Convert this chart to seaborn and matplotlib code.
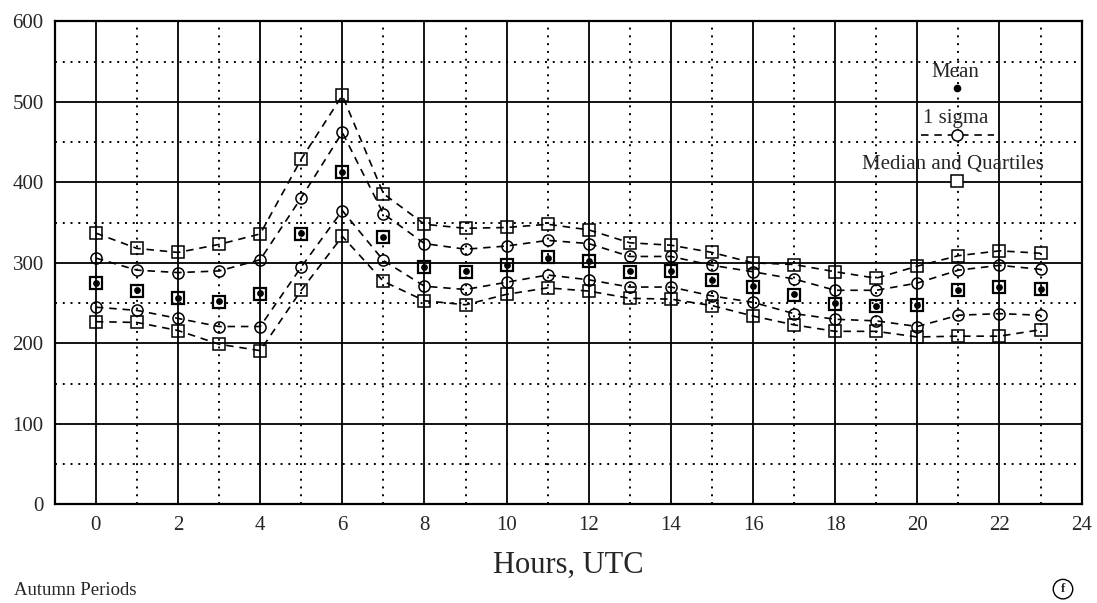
import matplotlib
matplotlib.use("Agg")
import matplotlib.pyplot as plt
from matplotlib.ticker import MultipleLocator
import seaborn as sns
import numpy as np

# values (hourly, autumn periods)
hours = list(range(24))
upper_quartile = [337, 318, 313, 323, 336, 429, 508, 386, 348, 343, 344, 348, 341, 325,
                  322, 313, 300, 298, 289, 281, 296, 309, 315, 312]
upper_sigma = [306, 291, 288, 290, 304, 381, 462, 361, 324, 317, 321, 328, 324, 308,
               308, 297, 289, 280, 266, 266, 275, 291, 297, 292]
median = [275, 265, 256, 252, 261, 336, 413, 332, 295, 289, 297, 307, 302, 289,
          290, 279, 270, 260, 249, 247, 248, 266, 270, 267]
mean = [275, 266, 256, 253, 262, 337, 413, 332, 295, 290, 297, 306, 302, 290,
        290, 279, 271, 261, 250, 247, 248, 266, 270, 267]
lower_sigma = [245, 241, 231, 221, 221, 295, 365, 303, 271, 267, 276, 285, 279, 270,
               270, 259, 251, 237, 230, 228, 221, 235, 237, 235]
lower_quartile = [227, 226, 216, 199, 191, 266, 333, 277, 253, 248, 261, 269, 265, 256,
                  255, 247, 234, 223, 215, 215, 208, 209, 209, 217]

sns.set_style("white")
plt.rcParams["font.family"] = ["Liberation Serif", "DejaVu Serif"]

fig = plt.figure(figsize=(10.97, 6.03), dpi=100)
ax = fig.add_axes([0.050, 0.1635, 0.936, 0.801])

dash_kw = dict(color="black", linestyle=(0, (4.5, 3.5)), linewidth=1.2,
               markerfacecolor="none", markeredgecolor="black", markeredgewidth=1.1)
for vals, mk in [(upper_quartile, "s"), (upper_sigma, "o"),
                 (lower_sigma, "o"), (lower_quartile, "s")]:
    sns.lineplot(x=hours, y=vals, ax=ax, marker=mk, markersize=8, **dash_kw)

ax.plot(hours, median, linestyle="none", marker="s", markersize=9,
        markerfacecolor="none", markeredgecolor="black", markeredgewidth=1.6)
sns.scatterplot(x=hours, y=mean, ax=ax, color="black", s=24, linewidth=0, zorder=5)

ax.set_xlim(-1, 24)
ax.set_ylim(0, 600)
ax.xaxis.set_major_locator(MultipleLocator(2))
ax.xaxis.set_minor_locator(MultipleLocator(1))
ax.yaxis.set_major_locator(MultipleLocator(100))
ax.yaxis.set_minor_locator(MultipleLocator(50))
ax.grid(which="major", color="black", linestyle="-", linewidth=1.3)
ax.grid(which="minor", color="black", linestyle=(0, (1, 3)), linewidth=1.4)
ax.set_axisbelow(True)
for sp in ax.spines.values():
    sp.set_color("black")
    sp.set_linewidth(1.6)
ax.tick_params(axis="both", which="both", length=0, labelsize=15, pad=8)
ax.set_xlabel("Hours, UTC", fontsize=22, labelpad=12)
ax.set_ylabel("")

# legend drawn inside the plot, labels above their symbols
tr = ax.transAxes
ax.text(0.877, 0.895, "Mean", transform=tr, ha="center", va="center", fontsize=15)
ax.plot([0.879], [0.862], transform=tr, marker="o", color="black", markersize=4.5)
ax.text(0.877, 0.80, "1 sigma", transform=tr, ha="center", va="center", fontsize=15)
ax.plot([0.844, 0.915], [0.765, 0.765], transform=tr, color="black",
        linestyle=(0, (4.5, 3.5)), linewidth=1.2)
ax.plot([0.879], [0.765], transform=tr, marker="o", markersize=8,
        markerfacecolor="white", markeredgecolor="black", markeredgewidth=1.1)
ax.text(0.875, 0.703, "Median and Quartiles", transform=tr, ha="center", va="center",
        fontsize=15)
ax.plot([0.879], [0.670], transform=tr, marker="s", markersize=8,
        markerfacecolor="white", markeredgecolor="black", markeredgewidth=1.1)

fig.text(0.013, 0.021, "Autumn Periods", ha="left", va="center", fontsize=13.5)
fig.text(0.969, 0.023, "f", ha="center", va="center", fontsize=9, fontweight="bold",
         bbox=dict(boxstyle="circle,pad=0.3", facecolor="white", edgecolor="black",
                   linewidth=1.0))

fig.savefig("out.png", dpi=100)
